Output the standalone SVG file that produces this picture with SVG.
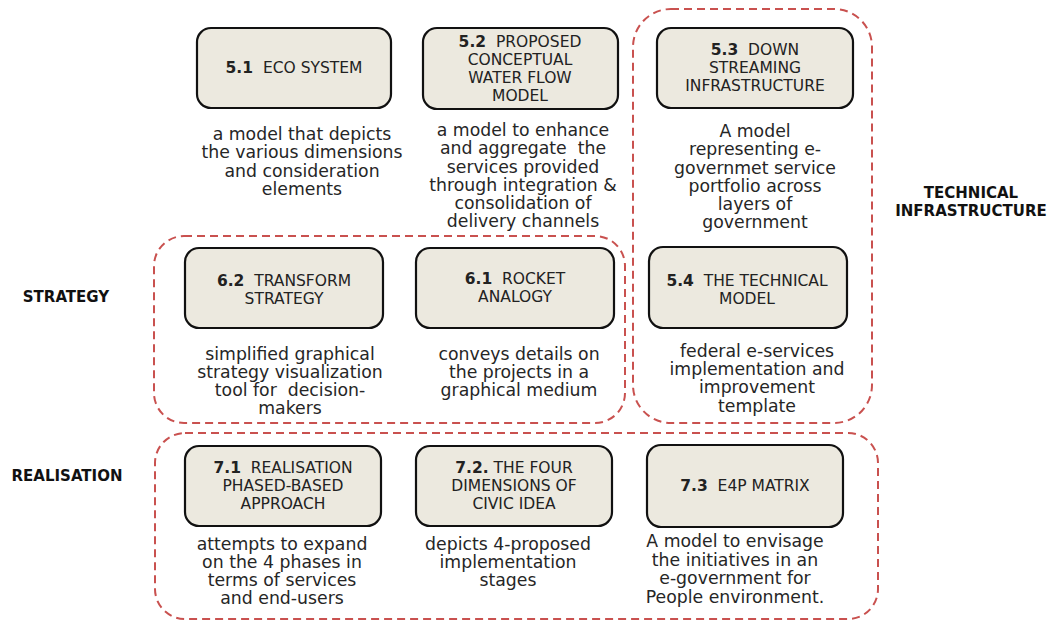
<svg xmlns="http://www.w3.org/2000/svg" width="1050" height="622" viewBox="0 0 1050 622">
<style>
.bg{fill:#ffffff}
.grp{fill:none;stroke:#c9514f;stroke-width:2;stroke-dasharray:8 5}
.box{fill:#ece9df;stroke:#111;stroke-width:2.2}
.t{font-family:"DejaVu Sans",sans-serif;font-size:15.5px;fill:#222;text-anchor:middle;white-space:pre}
.t tspan.b{font-weight:bold}
.d{font-family:"DejaVu Sans",sans-serif;font-size:17.3px;fill:#262626;text-anchor:middle;white-space:pre}
.lab{font-family:"DejaVu Sans",sans-serif;font-size:15px;font-weight:bold;fill:#111;text-anchor:middle}
</style>
<rect class="bg" x="0" y="0" width="1050" height="622"/>
<g id="groups">
<rect id="grp-technical" class="grp" x="633" y="9" width="239" height="414" rx="38"/>
<rect id="grp-strategy" class="grp" x="154" y="236" width="471" height="187" rx="30"/>
<rect id="grp-realisation" class="grp" x="155" y="433" width="723" height="186" rx="30"/>
</g>
<g id="labels">
<text class="lab" x="971" y="198">TECHNICAL</text>
<text class="lab" x="971" y="216">INFRASTRUCTURE</text>
<text class="lab" x="66" y="302">STRATEGY</text>
<text class="lab" x="67" y="481">REALISATION</text>
</g>
<g id="n51">
<rect class="box" x="197" y="28" width="194" height="80" rx="14"/>
<text class="t" x="294" y="73" xml:space="preserve"><tspan class="b">5.1</tspan>  ECO SYSTEM</text>
<text class="d" xml:space="preserve"><tspan x="302" y="140">a model that depicts</tspan><tspan x="302" y="158">the various dimensions</tspan><tspan x="302" y="177">and consideration</tspan><tspan x="302" y="195">elements</tspan></text>
</g>
<g id="n52">
<rect class="box" x="423" y="28" width="195" height="81" rx="14"/>
<text class="t" xml:space="preserve"><tspan x="520" y="47"><tspan class="b">5.2</tspan>  PROPOSED</tspan><tspan x="520" y="65">CONCEPTUAL</tspan><tspan x="520" y="83">WATER FLOW</tspan><tspan x="520" y="101">MODEL</tspan></text>
<text class="d" xml:space="preserve"><tspan x="523" y="136">a model to enhance</tspan><tspan x="523" y="154">and aggregate  the</tspan><tspan x="523" y="173">services provided</tspan><tspan x="523" y="191">through integration &amp;</tspan><tspan x="523" y="209">consolidation of</tspan><tspan x="523" y="227">delivery channels</tspan></text>
</g>
<g id="n53">
<rect class="box" x="657" y="28" width="196" height="80" rx="14"/>
<text class="t" xml:space="preserve"><tspan x="755" y="55"><tspan class="b">5.3</tspan>  DOWN</tspan><tspan x="755" y="73">STREAMING</tspan><tspan x="755" y="91">INFRASTRUCTURE</tspan></text>
<text class="d" xml:space="preserve"><tspan x="755" y="137">A model</tspan><tspan x="755" y="155">representing e-</tspan><tspan x="755" y="174">governmet service</tspan><tspan x="755" y="192">portfolio across</tspan><tspan x="755" y="210">layers of</tspan><tspan x="755" y="228">government</tspan></text>
</g>
<g id="n54">
<rect class="box" x="649" y="247" width="198" height="81" rx="14"/>
<text class="t" xml:space="preserve"><tspan x="747" y="286"><tspan class="b">5.4</tspan>  THE TECHNICAL</tspan><tspan x="747" y="304">MODEL</tspan></text>
<text class="d" xml:space="preserve"><tspan x="757" y="357">federal e-services</tspan><tspan x="757" y="375">implementation and</tspan><tspan x="757" y="393">improvement</tspan><tspan x="757" y="412">template</tspan></text>
</g>
<g id="n62">
<rect class="box" x="185" y="248" width="198" height="80" rx="14"/>
<text class="t" xml:space="preserve"><tspan x="284" y="286"><tspan class="b">6.2</tspan>  TRANSFORM</tspan><tspan x="284" y="304">STRATEGY</tspan></text>
<text class="d" xml:space="preserve"><tspan x="290" y="360">simplified graphical</tspan><tspan x="290" y="378">strategy visualization</tspan><tspan x="290" y="396">tool for  decision-</tspan><tspan x="290" y="414">makers</tspan></text>
</g>
<g id="n61">
<rect class="box" x="416" y="248" width="198" height="80" rx="14"/>
<text class="t" xml:space="preserve"><tspan x="515" y="284"><tspan class="b">6.1</tspan>  ROCKET</tspan><tspan x="515" y="302">ANALOGY</tspan></text>
<text class="d" xml:space="preserve"><tspan x="519" y="360">conveys details on</tspan><tspan x="519" y="378">the projects in a</tspan><tspan x="519" y="396">graphical medium</tspan></text>
</g>
<g id="n71">
<rect class="box" x="185" y="446" width="196" height="80" rx="14"/>
<text class="t" xml:space="preserve"><tspan x="283" y="473"><tspan class="b">7.1</tspan>  REALISATION</tspan><tspan x="283" y="491">PHASED-BASED</tspan><tspan x="283" y="509">APPROACH</tspan></text>
<text class="d" xml:space="preserve"><tspan x="282" y="550">attempts to expand</tspan><tspan x="282" y="568">on the 4 phases in</tspan><tspan x="282" y="586">terms of services</tspan><tspan x="282" y="604">and end-users</tspan></text>
</g>
<g id="n72">
<rect class="box" x="416" y="446" width="196" height="80" rx="14"/>
<text class="t" xml:space="preserve"><tspan x="514" y="473"><tspan class="b">7.2.</tspan> THE FOUR</tspan><tspan x="514" y="491">DIMENSIONS OF</tspan><tspan x="514" y="509">CIVIC IDEA</tspan></text>
<text class="d" xml:space="preserve"><tspan x="508" y="550">depicts 4-proposed</tspan><tspan x="508" y="568">implementation</tspan><tspan x="508" y="586">stages</tspan></text>
</g>
<g id="n73">
<rect class="box" x="647" y="445" width="196" height="82" rx="14"/>
<text class="t" x="745" y="491" xml:space="preserve"><tspan class="b">7.3</tspan>  E4P MATRIX</text>
<text class="d" xml:space="preserve"><tspan x="735" y="547">A model to envisage</tspan><tspan x="735" y="566">the initiatives in an</tspan><tspan x="735" y="584">e-government for</tspan><tspan x="735" y="603">People environment.</tspan></text>
</g>
<g id="connectors"></g>
</svg>
